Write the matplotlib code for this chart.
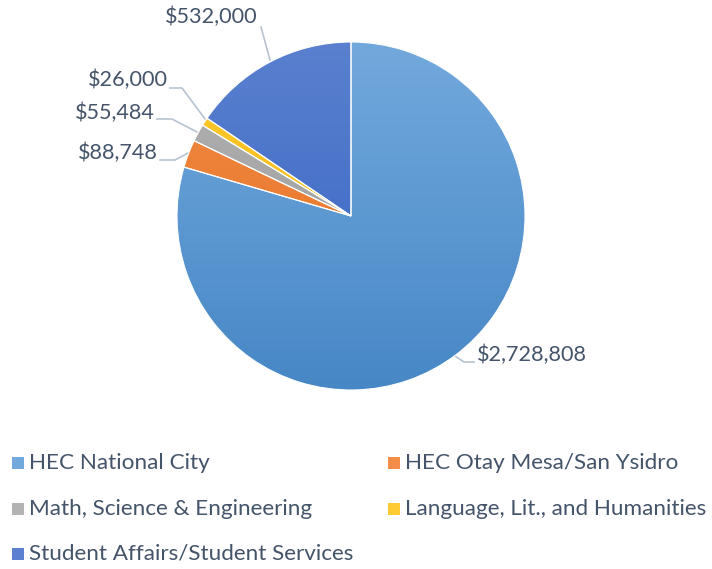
import numpy as np
import matplotlib
matplotlib.use("Agg")
import matplotlib.pyplot as plt
from matplotlib.colors import LinearSegmentedColormap
from matplotlib.patches import Rectangle

categories = [
    "HEC National City",
    "HEC Otay Mesa/San Ysidro",
    "Math, Science & Engineering",
    "Language, Lit., and Humanities",
    "Student Affairs/Student Services",
]
values = [2728808, 88748, 55484, 26000, 532000]
# gradient colours (top, bottom) like the Office style
grad_top = ["#72A9DD", "#F28C48", "#B3B3B3", "#FFCB35", "#5A80CF"]
grad_bot = ["#4787C6", "#E56E1C", "#979797", "#EEB100", "#3463C2"]

W, H = 712, 569
TEXT = "#44546A"
LEAD = "#B8C3D0"
plt.rcParams["font.family"] = ["Lato", "DejaVu Sans"]

fig = plt.figure(figsize=(W / 100, H / 100), dpi=100)
ax = fig.add_axes([0, 0, 1, 1])

cx, cy, r = 351, H - 216, 174
wedges, _ = ax.pie(values, startangle=90, counterclock=False, center=(cx, cy),
                   radius=r, frame=True,
                   wedgeprops=dict(facecolor="none", edgecolor="white", linewidth=0.8, zorder=3))
ax.set_xlim(0, W)
ax.set_ylim(0, H)
ax.set_aspect("equal")
ax.axis("off")

grad = np.linspace(0, 1, 256).reshape(-1, 1)
for w, top, bot in zip(wedges, grad_top, grad_bot):
    cmap = LinearSegmentedColormap.from_list("g", [bot, top])
    im = ax.imshow(grad, cmap=cmap, origin="lower", aspect="auto",
                   extent=[cx - r, cx + r, cy - r, cy + r], zorder=2)
    im.set_clip_path(w)

# data labels with leader lines (pixel coords, y from top)
labels = ["$2,728,808", "$88,748", "$55,484", "$26,000", "$532,000"]
label_pos = [(477, 355, "left"), (158, 153, "right"), (155, 113, "right"),
             (168, 80, "right"), (258, 17, "right")]
leaders = [
    [(455, 356), (464, 362), (474, 362)],
    [(160, 160), (175, 160), (188, 153)],
    [(157, 119), (172, 119), (197, 132)],
    [(170, 88), (182, 88), (205, 119)],
    [(261, 27), (270, 60)],
]
for lab, (x, y, ha), pts in zip(labels, label_pos, leaders):
    ax.text(x, H - y, lab, ha=ha, va="center", fontsize=15.6, color=TEXT)
    xs = [p[0] for p in pts]
    ys = [H - p[1] for p in pts]
    ax.plot(xs, ys, color=LEAD, lw=1.2, zorder=1)

# legend
leg_pos = [(12, 463), (388, 463), (12, 509), (388, 509), (12, 554)]
for name, top, bot, (x, y) in zip(categories, grad_top, grad_bot, leg_pos):
    ax.add_patch(Rectangle((x, H - y - 6), 12, 12, facecolor=top, edgecolor="none"))
    ax.text(x + 17, H - y, name, ha="left", va="center", fontsize=16.2, color=TEXT)

fig.savefig("out.png", dpi=100)
